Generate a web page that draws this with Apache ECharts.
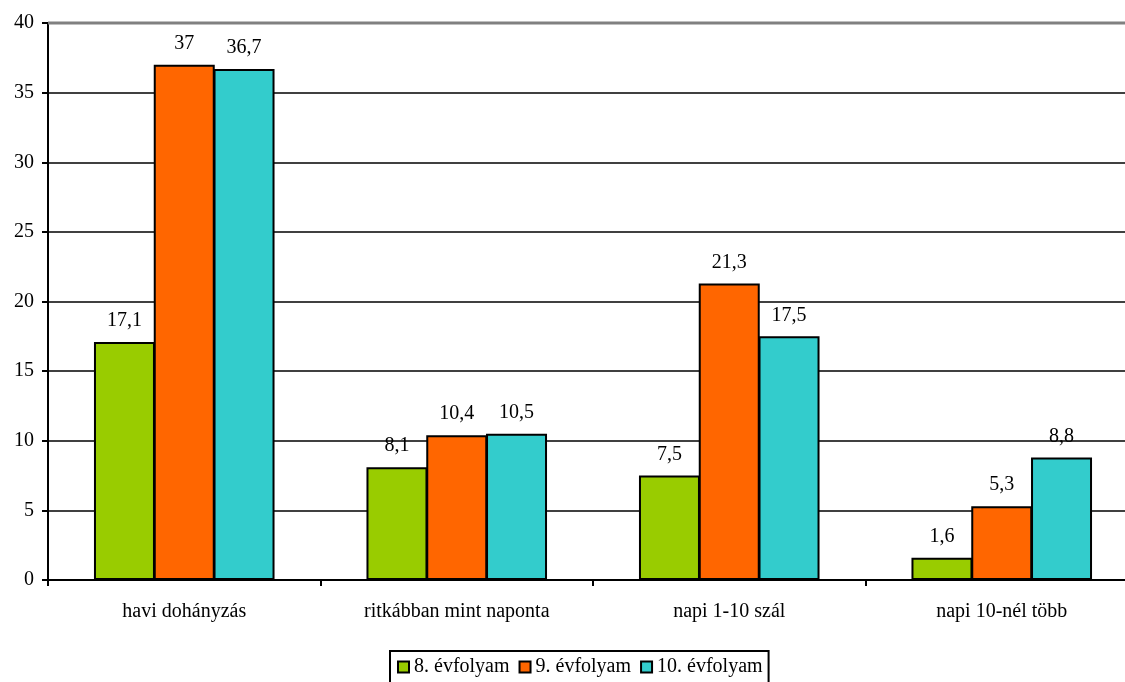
<!DOCTYPE html>
<html><head><meta charset="utf-8">
<script src="https://cdn.jsdelivr.net/npm/echarts@6/dist/echarts.min.js"></script>
<style>html,body{margin:0;padding:0;background:#fff}#c{width:1125px;height:682px}</style>
</head><body><div id="c"></div>
<script>
var categories = ['havi dohányzás', 'ritkábban mint naponta', 'napi 1-10 szál', 'napi 10-nél több'];
var seriesNames = ['8. évfolyam', '9. évfolyam', '10. évfolyam'];
var grade8 = [17.1, 8.1, 7.5, 1.6];
var grade9 = [37, 10.4, 21.3, 5.3];
var grade10 = [36.7, 10.5, 17.5, 8.8];
var yTicks = [0, 5, 10, 15, 20, 25, 30, 35, 40];
var colors = ['#99CC00', '#FF6600', '#33CCCC'];
var font = '"Liberation Serif", "Times New Roman", serif';

var chart = echarts.init(document.getElementById('c'));
function mk(name, data, color) {
  return {
    name: name, type: 'bar', data: data, barWidth: 61, barGap: '-2%',
    itemStyle: { color: color, borderColor: '#000', borderWidth: 2 },
    label: { show: true, position: 'top', distance: 11, color: '#000', fontFamily: font, fontSize: 20,
      formatter: function (p) { return String(p.value).replace('.', ','); } }
  };
}
chart.setOption({
  animation: false,
  textStyle: { fontFamily: font },
  grid: { left: 48, width: 1090, top: 23, bottom: 102, containLabel: false, outerBoundsMode: 'none' },
  legend: {
    left: 390, top: 651, itemWidth: 11, itemHeight: 11, itemGap: 9,
    borderColor: '#000', borderWidth: 2, padding: [6, 6, 12, 7],
    textStyle: { fontFamily: font, fontSize: 20, color: '#000', padding: [0, 0, 0, 0] },
    icon: 'rect',
    itemStyle: { borderColor: '#000', borderWidth: 2 },
    data: seriesNames
  },
  xAxis: {
    type: 'category', data: categories,
    axisLine: { lineStyle: { color: '#000', width: 2 } },
    axisTick: { show: true, length: 6, lineStyle: { color: '#000', width: 2 } },
    axisLabel: { color: '#000', fontFamily: font, fontSize: 20, margin: 22 }
  },
  yAxis: {
    type: 'value', min: yTicks[0], max: yTicks[yTicks.length - 1], interval: 5,
    axisLine: { show: true, lineStyle: { color: '#000', width: 2 } },
    axisTick: { show: true, length: 6, lineStyle: { color: '#000', width: 2 } },
    axisLabel: { color: '#000', fontFamily: font, fontSize: 20, margin: 14 },
    splitLine: { show: true, lineStyle: { color: '#000', width: 1.5 } }
  },
  series: [mk(seriesNames[0], grade8, colors[0]), mk(seriesNames[1], grade9, colors[1]), mk(seriesNames[2], grade10, colors[2])]
});
chart.setOption({
  graphic: [{
    type: 'line', z: 100,
    shape: { x1: 48, y1: chart.convertToPixel({ yAxisIndex: 0 }, 40), x2: 1125, y2: chart.convertToPixel({ yAxisIndex: 0 }, 40) },
    style: { stroke: '#808080', lineWidth: 3 }
  }]
});
</script></body></html>
